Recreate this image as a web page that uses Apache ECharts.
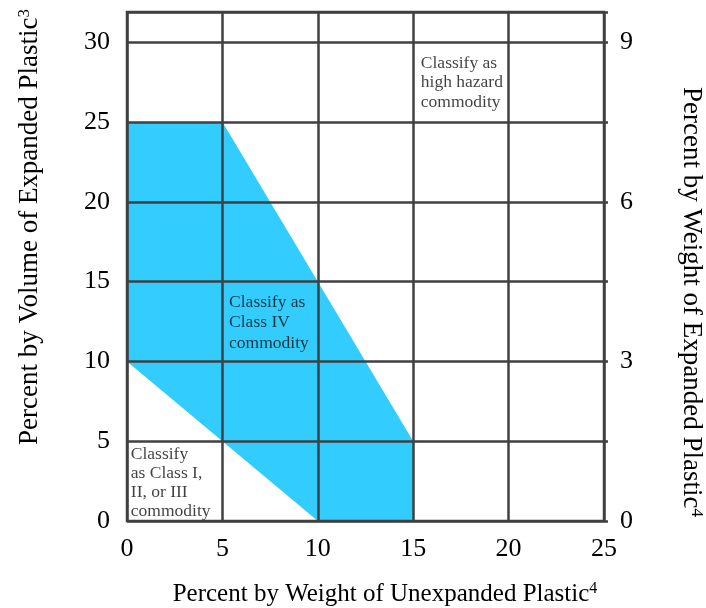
<!DOCTYPE html>
<html>
<head>
<meta charset="utf-8">
<script src="https://cdn.jsdelivr.net/npm/echarts/dist/echarts.min.js"></script>
<style>html,body{margin:0;padding:0;background:#fff}#c{width:706px;height:608px}</style>
</head>
<body>
<div id="c"></div>
<script>
// ---- data ----
const xTicks = [0, 5, 10, 15, 20, 25];
const leftTicks = [0, 5, 10, 15, 20, 25, 30];
const rightTicks = [0, 3, 6, 9];
// Class IV region polygon (x = % weight unexpanded, y = % volume expanded)
const regionX = [0, 0, 5, 15, 15, 10];
const regionY = [10, 25, 25, 5, 0, 0];
// annotations
const noteX = [15.4, 5.35, 0.2];
const noteY = [29.3, 14.35, 4.75];
const noteText = [
  'Classify as\nhigh hazard\ncommodity',
  'Classify as\nClass IV\ncommodity',
  'Classify\nas Class I,\nII, or III\ncommodity'
];
const noteLine = [19.5, 20.5, 19];

const FONT = '"Liberation Serif", "DejaVu Serif", serif';
const LINE = '#404040';
const xMax = 25, yMax = 31.9;

const chart = echarts.init(document.getElementById('c'), null, {renderer: 'canvas'});
chart.setOption({
  animation: false,
  backgroundColor: '#fff',
  grid: {left: 127, right: 102, top: 12, bottom: 87, show: true, borderColor: LINE, borderWidth: 2.5, backgroundColor: 'transparent', z: 3},
  xAxis: {
    type: 'value', min: 0, max: xMax, interval: 5,
    axisLine: {show: false}, axisTick: {show: false},
    splitLine: {show: true, lineStyle: {color: LINE, width: 2.5}},
    axisLabel: {fontFamily: FONT, fontSize: 26, color: '#000', margin: 15,
      formatter: v => xTicks.indexOf(v) >= 0 ? String(v) : ''},
    z: 3
  },
  yAxis: [
    {
      type: 'value', position: 'left', min: 0, max: yMax, interval: 5,
      axisLine: {show: false}, axisTick: {show: false},
      splitLine: {show: true, lineStyle: {color: LINE, width: 2.5}},
      axisLabel: {fontFamily: FONT, fontSize: 26, color: '#000', margin: 17,
        formatter: v => leftTicks.indexOf(v) >= 0 ? String(v) : ''},
      z: 3
    },
    {
      type: 'value', position: 'right', min: 0, max: yMax * 0.3, interval: 3,
      axisLine: {show: false}, axisTick: {show: false}, splitLine: {show: false},
      axisLabel: {fontFamily: FONT, fontSize: 26, color: '#000', margin: 16,
        formatter: v => rightTicks.indexOf(v) >= 0 ? String(v) : ''},
      z: 3
    },
    {
      type: 'value', position: 'right', min: 0, max: yMax, interval: 5,
      axisLine: {show: false}, axisLabel: {show: false}, splitLine: {show: false},
      axisTick: {show: true, length: 4, inside: false, lineStyle: {color: LINE, width: 2.5}},
      z: 3
    }
  ],
  graphic: [
    {type: 'text', x: 385, y: 594, z: 10, style: {
      text: '{a|Percent by Weight of Unexpanded Plastic}{s|4}', align: 'center', verticalAlign: 'middle',
      rich: {a: {fontFamily: FONT, fontSize: 25, fill: '#000'}, s: {fontFamily: FONT, fontSize: 16, fill: '#000', padding: [0, 0, 10, 0]}}
    }},
    {type: 'text', x: 30, y: 227, rotation: Math.PI / 2, z: 10, style: {
      text: '{a|Percent by Volume of Expanded Plastic}{s|3}', align: 'center', verticalAlign: 'middle',
      rich: {a: {fontFamily: FONT, fontSize: 27, fill: '#000'}, s: {fontFamily: FONT, fontSize: 17, fill: '#000', padding: [0, 0, 11, 0]}}
    }},
    {type: 'text', x: 691, y: 302, rotation: -Math.PI / 2, z: 10, style: {
      text: '{a|Percent by Weight of Expanded Plastic}{s|4}', align: 'center', verticalAlign: 'middle',
      rich: {a: {fontFamily: FONT, fontSize: 27, fill: '#000'}, s: {fontFamily: FONT, fontSize: 17, fill: '#000', padding: [0, 0, 11, 0]}}
    }}
  ],
  series: [
    {
      type: 'custom', z: -1, silent: true,
      data: [[0, 0]],
      renderItem: function (params, api) {
        const pts = regionX.map((x, i) => api.coord([x, regionY[i]]));
        return {type: 'polygon', shape: {points: pts}, style: {fill: '#33ccff'}};
      }
    },
    {
      type: 'scatter', symbolSize: 0, z: 5, silent: true,
      data: noteX.map((x, i) => ({value: [x, noteY[i]], label: {
        show: true, position: 'inside', formatter: noteText[i],
        fontFamily: FONT, fontSize: 17.5, lineHeight: noteLine[i], color: '#111',
        align: 'left', verticalAlign: 'top'
      }}))
    }
  ]
});
</script>
</body>
</html>
